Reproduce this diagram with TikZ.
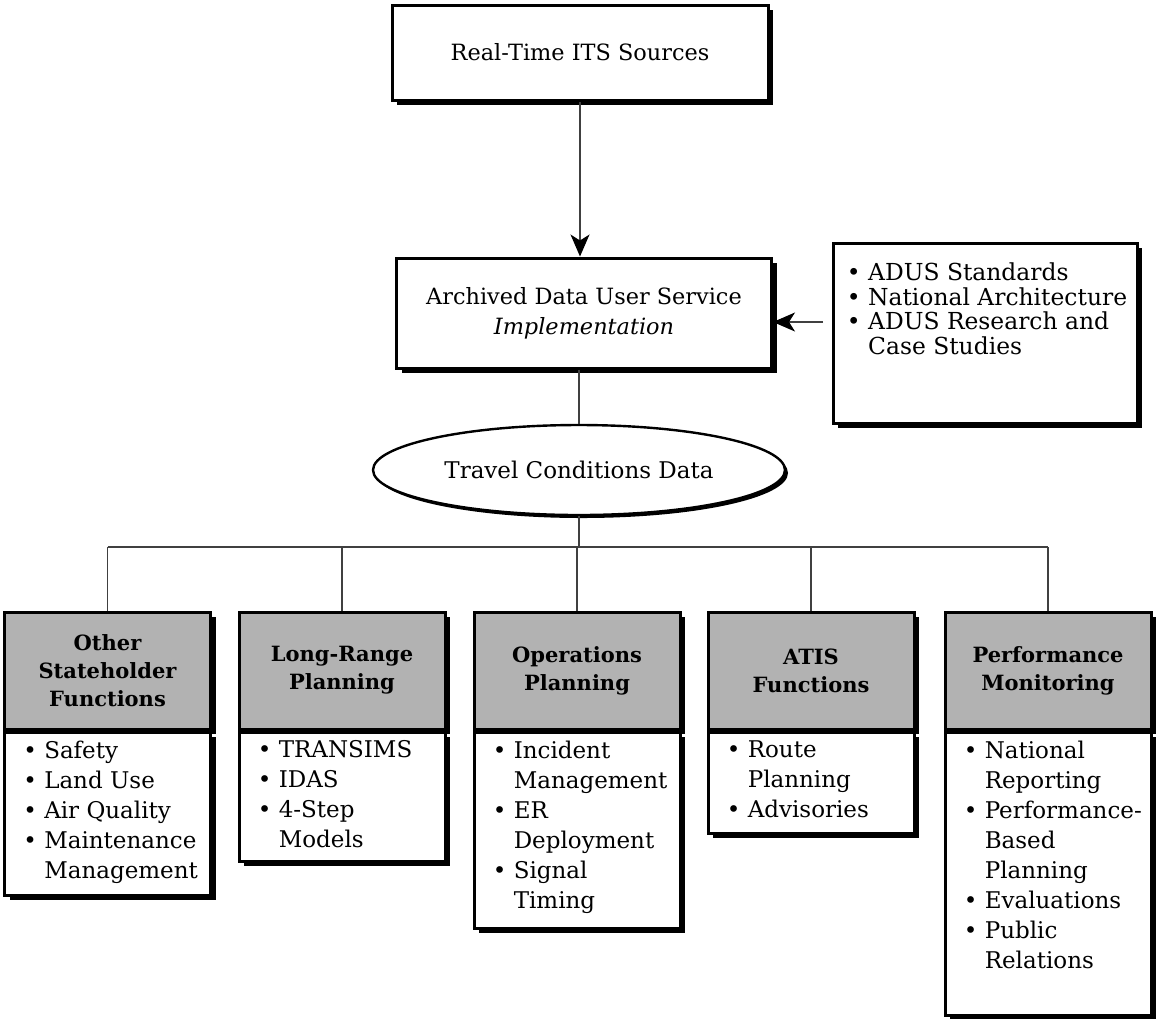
\documentclass[tikz,border=0pt]{standalone}
\usepackage{fontspec}
\setmainfont{DejaVu Serif}
\usetikzlibrary{arrows.meta,shapes.geometric,shadows}

\newcommand{\bulit}{\textbullet~}
\newcommand{\bulgap}{\phantom{\textbullet~}}

\tikzset{
  shadowed/.style={drop shadow={shadow xshift=2.5pt,shadow yshift=-2.5pt,fill=black,opacity=1}},
  topbox/.style={draw,line width=1.5pt,fill=white,shadowed,align=center,inner sep=0pt,
    font=\fontsize{11.2}{15}\selectfont},
  headbox/.style={draw,line width=1.5pt,fill=black!30,shadowed,minimum width=103pt,
    minimum height=58.5pt,inner sep=0pt,align=center,font=\fontsize{10.5}{14}\selectfont\bfseries},
  bodybox/.style={draw,line width=1.5pt,fill=white,shadowed,minimum width=103pt,inner sep=0pt,anchor=north},
  items/.style={anchor=north west,inner sep=0pt,align=left,font=\fontsize{11.5}{15}\selectfont},
  link/.style={draw=black!75,line width=0.6pt},
  arr/.style={link,-{Stealth[length=11pt,width=9.5pt,inset=3pt,black]}}
}

\begin{document}
\begin{tikzpicture}[x=0.5pt,y=-0.5pt]
  % 1. Fix the page to the size of the figure
  \useasboundingbox (0,0) rectangle (1159,1018);

  % 2. Sources and the archived data service
  \node[topbox,minimum width=188pt,minimum height=47.5pt] (src) at (580,52.5) {Real-Time ITS Sources};
  \node[topbox,minimum width=187.5pt,minimum height=55pt] (adus) at (584,313)
    {Archived Data User Service\\ \textit{Implementation}};
  \draw[arr] (src.south) -- (src.south |- adus.north);

  % 3. Standards and research feeding the service
  \node[topbox,minimum width=152pt,minimum height=90pt] (refs) at (985,333) {};
  \node[anchor=north west,inner sep=0pt,align=left,font=\fontsize{11.7}{12.3}\selectfont] (refstxt)
    at ([xshift=7.5pt,yshift=-10.5pt]refs.north west)
    {\bulit ADUS Standards\\ \bulit National Architecture\\ \bulit ADUS Research and\\ \bulgap Case Studies};
  \coordinate (refsout) at (823,322);
  \draw[arr] (refsout) -- (refsout -| adus.east);

  % 4. Travel conditions data
  \node[ellipse,draw,line width=1.2pt,fill=white,minimum width=206pt,minimum height=45pt,
    drop shadow={shadow xshift=1.5pt,shadow yshift=-1.5pt,fill=black,opacity=1},
    font=\fontsize{11.5}{15}\selectfont] (tcd) at (579,470) {Travel Conditions Data};
  \draw[link] (tcd.north |- adus.south) -- (tcd.north);

  % 5. Function columns: grey heading, then the list
  \node[headbox] (h1) at (107.5,670.5) {Other\\ Stateholder\\ Functions};
  \node[bodybox,minimum height=81.5pt] (b1) at (h1.south) {};
  \node[items] (i1) at ([xshift=10pt,yshift=-5pt]b1.north west)
    {\bulit Safety\\ \bulit Land Use\\ \bulit Air Quality\\ \bulit Maintenance\\ \bulgap Management};

  \node[headbox] (h2) at (342,670.5) {Long-Range\\ Planning};
  \node[bodybox,minimum height=64.5pt] (b2) at (h2.south) {};
  \node[items] (i2) at ([xshift=10pt,yshift=-5pt]b2.north west)
    {\bulit TRANSIMS\\ \bulit IDAS\\ \bulit 4-Step\\ \bulgap Models};

  \node[headbox] (h3) at (577,670.5) {Operations\\ Planning};
  \node[bodybox,minimum height=98pt] (b3) at (h3.south) {};
  \node[items] (i3) at ([xshift=10pt,yshift=-5pt]b3.north west)
    {\bulit Incident\\ \bulgap Management\\ \bulit ER\\ \bulgap Deployment\\ \bulit Signal\\ \bulgap Timing};

  \node[headbox] (h4) at (811,670.5) {ATIS\\ Functions};
  \node[bodybox,minimum height=50.5pt] (b4) at (h4.south) {};
  \node[items] (i4) at ([xshift=10pt,yshift=-5pt]b4.north west)
    {\bulit Route\\ \bulgap Planning\\ \bulit Advisories};

  \node[headbox] (h5) at (1048,670.5) {Performance\\ Monitoring};
  \node[bodybox,minimum height=141.5pt] (b5) at (h5.south) {};
  \node[items] (i5) at ([xshift=10pt,yshift=-5pt]b5.north west)
    {\bulit National\\ \bulgap Reporting\\ \bulit Performance-\\ \bulgap Based\\ \bulgap Planning\\
     \bulit Evaluations\\ \bulit Public\\ \bulgap Relations};

  % 6. Bus from the data down to every column
  \coordinate (bus) at (579,547);
  \draw[link] (tcd.south) -- (bus);
  \draw[link] (h1.north |- bus) -- (h5.north |- bus);
  \draw[link] (h1.north |- bus) -- (h1.north);
  \draw[link] (h2.north |- bus) -- (h2.north);
  \draw[link] (h3.north |- bus) -- (h3.north);
  \draw[link] (h4.north |- bus) -- (h4.north);
  \draw[link] (h5.north |- bus) -- (h5.north);
\end{tikzpicture}
\end{document}
